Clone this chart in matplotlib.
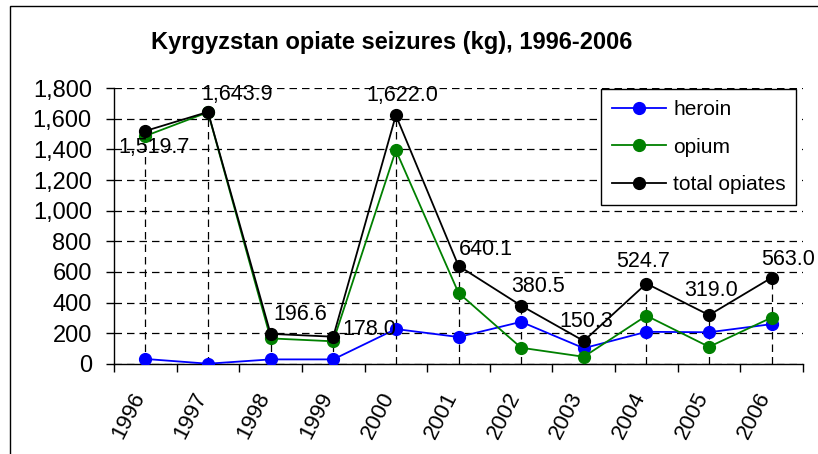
import matplotlib
matplotlib.use("Agg")
import matplotlib.pyplot as plt
import matplotlib.transforms as mtransforms
from matplotlib.patches import Rectangle
from matplotlib.ticker import FuncFormatter, FixedLocator

plt.rcParams['font.family'] = ['Liberation Sans', 'DejaVu Sans']

years = ['1996', '1997', '1998', '1999', '2000', '2001',
         '2002', '2003', '2004', '2005', '2006']
heroin = [33, 2, 30, 30, 228, 176, 275, 103, 210, 207, 260]
opium = [1487, 1642, 167, 148, 1394, 464, 106, 47, 315, 112, 303]
total = [1519.7, 1643.9, 196.6, 178.0, 1622.0, 640.1,
         380.5, 150.3, 524.7, 319.0, 563.0]

# label offsets from each total point (pixels)
label_offsets = [(9, -17), (29, 17), (30, 19), (36, 7), (6, 20), (27, 16),
                 (17, 19), (2, 19), (-3, 22), (2, 25), (16, 18)]

W, H = 818, 454
fig = plt.figure(figsize=(W / 100, H / 100), dpi=100)
ax = fig.add_axes([114 / W, 1 - 364 / H, (803 - 114) / W, (364 - 88) / H])

x = list(range(len(years)))

# drop lines from the total points
ax.vlines(x, 0, total, colors='black', linestyles=(0, (6, 4)), linewidth=0.9, zorder=1)

ax.plot(x, heroin, color='#0000ff', marker='o', markersize=8.5, linewidth=1.3, label='heroin', zorder=3)
ax.plot(x, opium, color='#008000', marker='o', markersize=8.5, linewidth=1.3, label='opium', zorder=3)
ax.plot(x, total, color='black', marker='o', markersize=8.5, linewidth=1.3, label='total opiates', zorder=4)

for xi, v, (dx, dy) in zip(x, total, label_offsets):
    ax.annotate(f'{v:,.1f}', (xi, v), xytext=(dx, dy), textcoords='offset pixels',
                ha='center', va='center', fontsize=15.5, zorder=5)

ax.set_xlim(-0.5, len(years) - 0.5)
ax.set_ylim(0, 1800)
ax.set_yticks(range(0, 1801, 200))
ax.yaxis.set_major_formatter(FuncFormatter(lambda v, p: f'{v:,.0f}'))
ax.grid(axis='y', color='black', linestyle=(0, (6, 4)), linewidth=0.9)
ax.set_axisbelow(True)

# category labels centred, tick marks between categories
ax.set_xticks(x)
ax.set_xticklabels(years, rotation=63, ha='right', va='center', rotation_mode='anchor', fontsize=16)
ax.tick_params(axis='x', which='major', length=0, pad=21)
shift = mtransforms.ScaledTranslation(-6 / 100, 0, fig.dpi_scale_trans)
for lbl in ax.get_xticklabels():
    lbl.set_transform(lbl.get_transform() + shift)
ax.xaxis.set_minor_locator(FixedLocator([i - 0.5 for i in range(len(years) + 1)]))
ax.tick_params(axis='x', which='minor', length=6, direction='out', width=1)
ax.tick_params(axis='y', length=6, direction='out', width=1, labelsize=17, pad=10)

for s in ['top', 'right']:
    ax.spines[s].set_visible(False)
for s in ['left', 'bottom']:
    ax.spines[s].set_linewidth(1)

leg = ax.legend(loc='upper right', bbox_to_anchor=(0.99, 0.995), fontsize=15,
                frameon=True, fancybox=False, edgecolor='black', framealpha=1,
                borderpad=0.5, labelspacing=0.9, handlelength=2.6, handletextpad=0.35,
                borderaxespad=0)
leg.get_frame().set_linewidth(1)

fig.text(392 / W, 1 - 42 / H, 'Kyrgyzstan opiate seizures (kg), 1996-2006',
         ha='center', va='center', fontsize=17, fontweight='bold')

# chart border (left and top edges visible)
fig.patches.append(Rectangle((10 / W, -0.1), 1.2, 1 - 6 / H + 0.1, transform=fig.transFigure,
                             fill=False, edgecolor='black', linewidth=1))

fig.savefig('out.png', dpi=100)
